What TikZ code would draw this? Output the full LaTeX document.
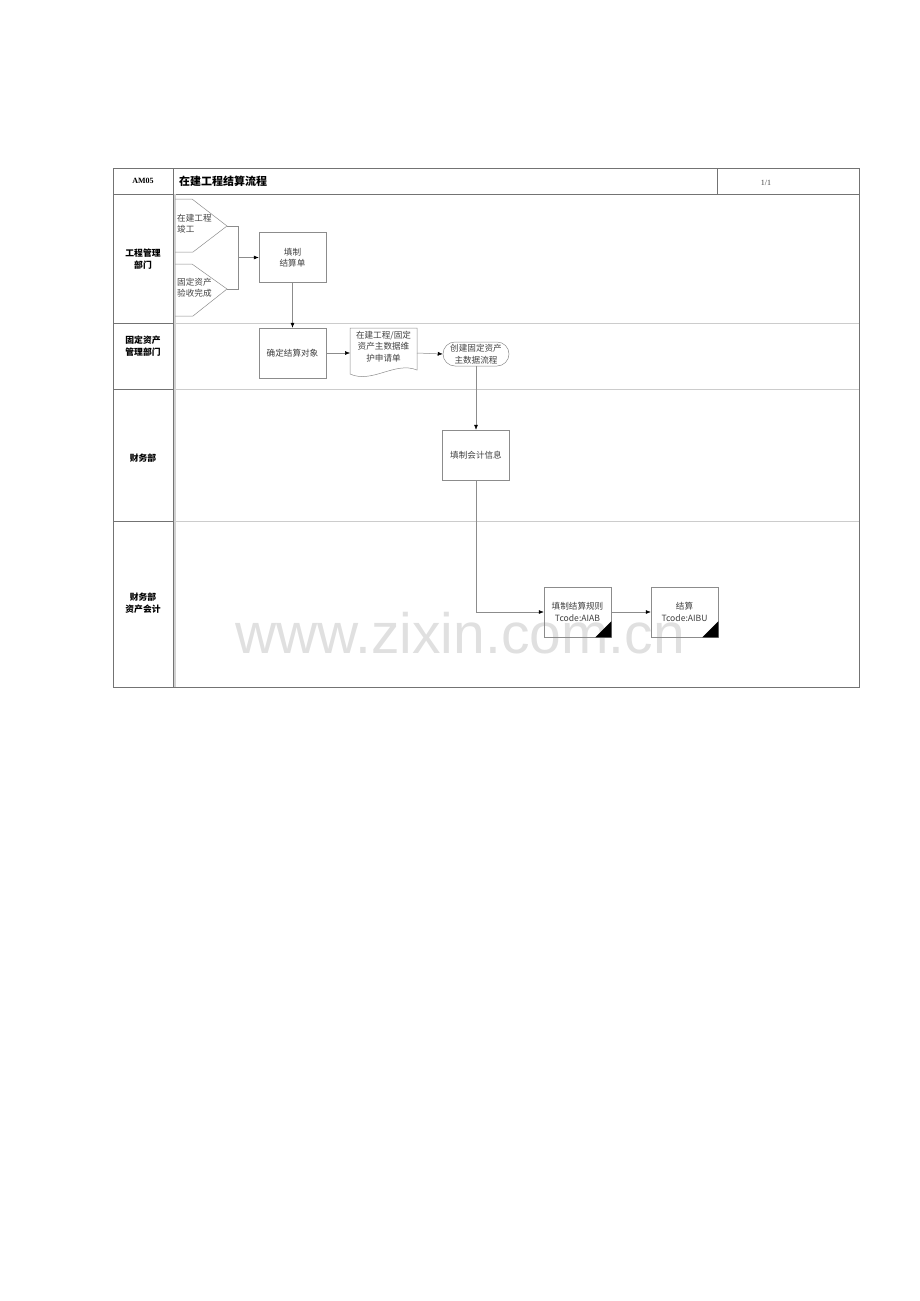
\documentclass[tikz,border=0pt]{standalone}
\usepackage{fontspec}
\setmainfont{Liberation Serif}
\newfontfamily\cjk{Noto Sans CJK SC}
\newfontfamily\wmfont{Liberation Sans}
\usetikzlibrary{arrows.meta}
\begin{document}
\begin{tikzpicture}[x=1pt,y=-1pt,
  frame/.style={draw=black!55, line width=0.6pt},
  laneline/.style={draw=black!20, line width=0.5pt},
  box/.style={draw=black!45, line width=0.5pt, minimum width=67pt, minimum height=50pt, inner sep=0pt, align=center, font=\cjk\fontsize{8.6}{11.5}\selectfont, text=black!75},
  txt/.style={inner sep=0pt, align=left, font=\cjk\fontsize{8.6}{11.5}\selectfont, text=black!75},
  lanelabel/.style={inner sep=0pt, align=center, font=\cjk\bfseries\fontsize{8.8}{12}\selectfont},
  conn/.style={draw=black!45, line width=0.5pt},
  arr/.style={conn, -{Latex[length=5pt,width=4pt,color=black]}},
  corner/.style={fill=black}
]
\useasboundingbox (0,0) rectangle (920,1301);
% watermark
\node[inner sep=0pt, text=black!12, font=\wmfont\fontsize{57}{57}\selectfont, anchor=base] (wm) at (460,653) {www.zixin.com.cn};
% table frame
\draw[frame] (113,168) rectangle (859,687);
\draw[frame] (113,194) -- (859,194);
\draw[frame] (173,168) -- (173,687);
\draw[frame] (717,168) -- (717,194);
\draw[draw=black!18, line width=2pt] (175,194) -- (175,687);
% lane separators
\draw[frame] (113,323) -- (173,323);
\draw[frame] (113,389) -- (173,389);
\draw[frame] (113,521) -- (173,521);
\draw[laneline] (176,323) -- (859,323);
\draw[laneline] (176,389) -- (859,389);
\draw[laneline] (176,521) -- (859,521);
% header texts
\node[inner sep=0pt, font=\bfseries\fontsize{8}{10}\selectfont] (hid) at (143,181) {AM05};
\node[inner sep=0pt, anchor=west, font=\cjk\bfseries\fontsize{11}{12}\selectfont] (htitle) at (179,181) {在建工程结算流程};
\node[inner sep=0pt, font=\fontsize{8}{10}\selectfont, text=black!75] (hpage) at (766,183) {1/1};
% lane labels
\node[lanelabel] (l1) at (143,259) {工程管理\\部门};
\node[lanelabel] (l2) at (143,346) {固定资产\\管理部门};
\node[lanelabel] (l3) at (143,458) {财务部};
\node[lanelabel] (l4) at (143,603) {财务部\\资产会计};
% pentagon shapes
\draw[conn] (175,199) -- (192,199) -- (227,226) -- (193,252) -- (175,252);
\coordinate (tip1) at (227,226);
\node[txt, anchor=north west] (p1) at (177,214) {在建工程\\竣工};
\draw[conn] (175,264) -- (192,264) -- (227,289) -- (193,316) -- (175,316);
\coordinate (tip2) at (227,289);
\node[txt, anchor=north west] (p2) at (177,278) {固定资产\\验收完成};
% boxes
\node[box] (b1) at (292.5,257.5) {填制\\结算单};
\node[box] (b2) at (292.5,353) {确定结算对象};
% document shape
\draw[conn] (350,374) -- (350,328) -- (417,328) -- (417,370) .. controls (395,361) and (372,384) .. (350,374);
\node[txt, align=center] (doc) at (383.5,346.5) {在建工程/固定\\资产主数据维\\护申请单};
\coordinate (docw) at (350,353);
\coordinate (doce) at (417,353);
% terminator
\node[box, rounded corners=12pt, minimum width=66pt, minimum height=24pt] (term) at (476,354) {创建固定资产\\主数据流程};
\node[box] (b3) at (476,455) {填制会计信息};
\node[box] (b4) at (577.5,612) {填制结算规则\\Tcode:AIAB};
\node[box] (b5) at (684.5,612) {结算\\Tcode:AIBU};
\fill[corner] (b4.south east) -- ++(-16,0) -- ++(16,-16) -- cycle;
\fill[corner] (b5.south east) -- ++(-16,0) -- ++(16,-16) -- cycle;
% connectors
\coordinate (j) at (238,257.5);
\draw[conn] (tip1) -- (238,226) -- (238,289) -- (tip2);
\draw[arr] (j) -- (b1.west);
\draw[arr] (b1.south) -- (b2.north);
\draw[arr] (b2.east) -- (docw);
\draw[arr] (doce) -- (term.west);
\draw[arr] (term.south) -- (b3.north);
\draw[arr] (b3.south) |- (b4.west);
\draw[arr] (b4.east) -- (b5.west);
\end{tikzpicture}
\end{document}
